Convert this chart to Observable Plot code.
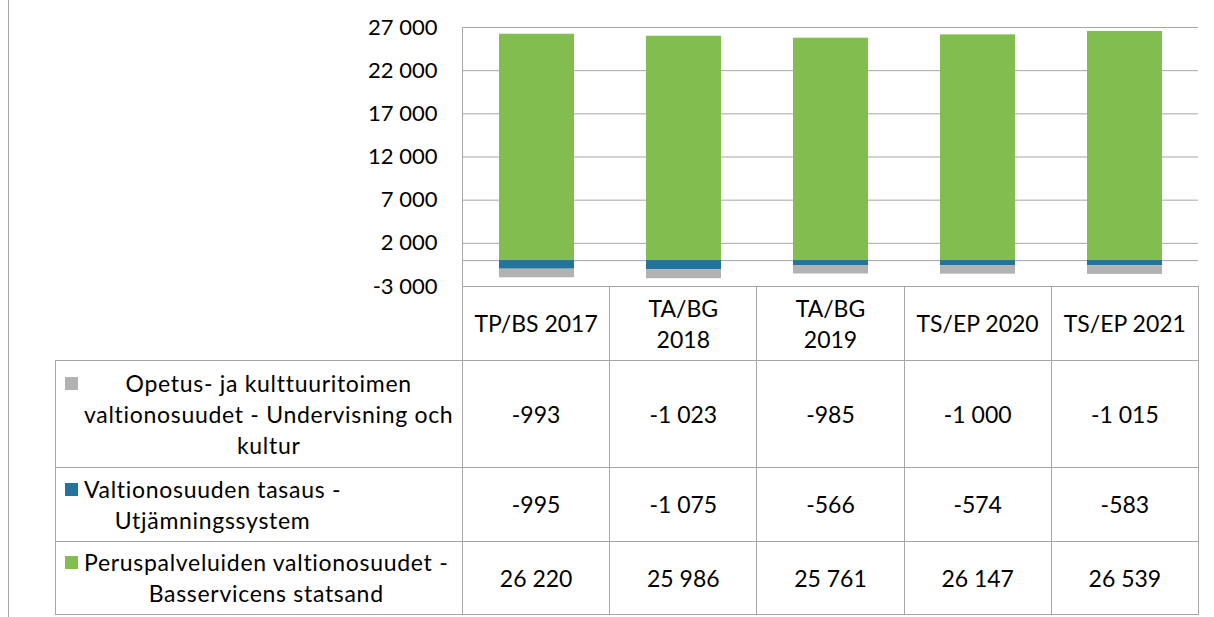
<!DOCTYPE html>
<html>
<head>
<meta charset="utf-8">
<script src="https://cdn.jsdelivr.net/npm/d3@7"></script>
<script src="https://cdn.jsdelivr.net/npm/@observablehq/plot@0.6"></script>
<style>
  html, body { margin: 0; padding: 0; background: #fff; }
  #wrap { position: relative; width: 1214px; height: 617px; overflow: hidden; font-family: Lato, "Open Sans", sans-serif; }
  #pageline { position: absolute; left: 8px; top: 0; width: 1px; height: 617px; background: #a6a6a6; }
  #chart { position: absolute; left: 0; top: 0; }
  #tbl { position: absolute; left: 55px; top: 286px; border-collapse: collapse; table-layout: fixed; width: 1144px; }
  #tbl td { border: 1px solid #a6a6a6; padding: 0; text-align: center; vertical-align: middle; font-size: 23px; line-height: 31px; color: #000; }
  #tbl td.blank { border-top: none; border-left: none; }
  .lg { display: flex; align-items: flex-start; padding-left: 9px; }
  .sw { width: 13px; height: 13px; margin-top: 9px; margin-right: 6px; flex: none; }
  .lt { text-align: center; flex: none; letter-spacing: 0.7px; }
</style>
</head>
<body>
<div id="wrap">
  <div id="pageline"></div>
  <div id="chart"></div>
  <table id="tbl"></table>
</div>
<script>
// ---- data ----
const categories = ["TP/BS 2017", "TA/BG 2018", "TA/BG 2019", "TS/EP 2020", "TS/EP 2021"];
const headerLines = [["TP/BS 2017"], ["TA/BG", "2018"], ["TA/BG", "2019"], ["TS/EP 2020"], ["TS/EP 2021"]];
const seriesNames = [
  "Opetus- ja kulttuuritoimen valtionosuudet - Undervisning och kultur",
  "Valtionosuuden tasaus - Utjämningssystem",
  "Peruspalveluiden valtionosuudet - Basservicens statsand"
];
const seriesLabelLines = [
  ["Opetus- ja kulttuuritoimen", "valtionosuudet - Undervisning och", "kultur"],
  ["Valtionosuuden tasaus -", "Utjämningssystem"],
  ["Peruspalveluiden valtionosuudet -", "Basservicens statsand"]
];
const opetus = [-993, -1023, -985, -1000, -1015];
const tasaus = [-995, -1075, -566, -574, -583];
const perus = [26220, 25986, 25761, 26147, 26539];
const seriesColors = ["#b2b2b2", "#23739b", "#82bd4f"];
const yTicks = [-3000, 2000, 7000, 12000, 17000, 22000, 27000];

const seriesValues = [opetus, tasaus, perus];
const stackOrder = [seriesNames[2], seriesNames[1], seriesNames[0]];

const fmt = v => (v < 0 ? "-" : "") + String(Math.abs(v)).replace(/\B(?=(\d{3})+(?!\d))/g, " ");

const data = [];
stackOrder.forEach(name => {
  const i = seriesNames.indexOf(name);
  categories.forEach((c, j) => data.push({cat: c, series: name, value: seriesValues[i][j]}));
});

const chart = Plot.plot({
  width: 1214,
  height: 300,
  marginLeft: 462,
  marginRight: 16,
  marginTop: 27,
  marginBottom: 14,
  style: {fontFamily: "Lato, 'Open Sans', sans-serif", color: "#000", background: "transparent"},
  x: {domain: categories, paddingInner: 0.49, paddingOuter: 0.245, axis: null},
  y: {domain: [-3000, 27000], axis: null},
  color: {domain: seriesNames, range: seriesColors},
  marks: [
    Plot.gridY(yTicks, {stroke: "#a6a6a6", strokeOpacity: 1}),
    Plot.ruleY([0], {stroke: "#a6a6a6"}),
    Plot.barY(data, {x: "cat", y: "value", fill: "series", order: stackOrder}),
    Plot.frame({anchor: "left", stroke: "#a6a6a6"}),
    Plot.axisY(yTicks, {tickSize: 0, tickPadding: 25, tickFormat: fmt, fontSize: 22, label: null})
  ]
});
document.getElementById("chart").appendChild(chart);

// ---- data table ----
const tbl = document.getElementById("tbl");
const cg = document.createElement("colgroup");
cg.innerHTML = `<col style="width:407px">` + categories.map(() => `<col style="width:147.2px">`).join("");
tbl.appendChild(cg);

const hr = document.createElement("tr");
hr.style.height = "74px";
hr.innerHTML = `<td class="blank"></td>` + headerLines.map(l => `<td>${l.join("<br>")}</td>`).join("");
tbl.appendChild(hr);

const rowHeights = [107, 74, 73];
seriesNames.forEach((name, i) => {
  const tr = document.createElement("tr");
  tr.style.height = rowHeights[i] + "px";
  tr.innerHTML = `<td><div class="lg"><span class="sw" style="background:${seriesColors[i]}"></span><div class="lt">${seriesLabelLines[i].join("<br>")}</div></div></td>` +
    seriesValues[i].map(v => `<td>${fmt(v)}</td>`).join("");
  tbl.appendChild(tr);
});
</script>
</body>
</html>
